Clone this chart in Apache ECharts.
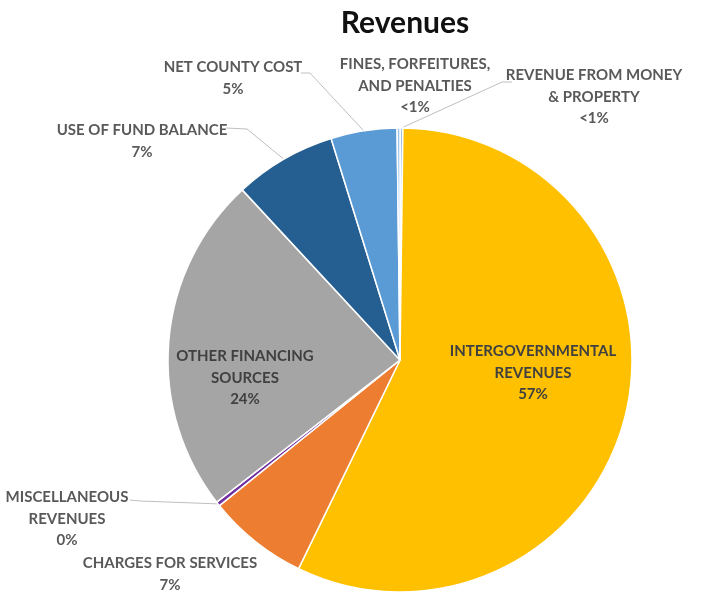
<!DOCTYPE html>
<html><head><meta charset="utf-8">
<script src="https://cdn.jsdelivr.net/npm/echarts@6/dist/echarts.min.js"></script>
<style>html,body{margin:0;padding:0;background:#fff}#c{width:707px;height:592px}</style>
</head><body><div id="c"></div>
<script>
// ---- data ----
const categories = [
  'REVENUE FROM MONEY\n& PROPERTY',
  'INTERGOVERNMENTAL\nREVENUES',
  'CHARGES FOR SERVICES',
  'MISCELLANEOUS\nREVENUES',
  'OTHER FINANCING\nSOURCES',
  'USE OF FUND BALANCE',
  'NET COUNTY COST',
  'FINES, FORFEITURES,\nAND PENALTIES'
];
const values = [0.2, 57.0, 7.0, 0.3, 23.6, 7.1, 4.6, 0.2];
const percentLabels = ['<1%', '57%', '7%', '0%', '24%', '7%', '5%', '<1%'];

// ---- style / layout ----
const colors = ['#9DC3E6', '#FFC000', '#ED7D31', '#7030A0', '#A5A5A5', '#255E91', '#5B9BD5', '#9DC3E6'];
const CX = 400, CY = 360, R = 232;
const labelPos = [[594, 97], [533, 373], [170, 574], [67, 519], [245, 378], [142, 141], [233, 78], [415, 86]];
const insideIdx = [1, 4];
const lineTail = { 0: [[502, 82], [512, 82]], 3: [[140, 501], [130, 500]], 5: [[247, 129], [226, 128]], 6: [[310, 73], [301, 73]] };
const FONT = "Lato, 'Liberation Sans', sans-serif";

const total = values.reduce((a, b) => a + b, 0);
const midAngles = [];
let cum = 0;
values.forEach(v => { midAngles.push((cum + v / 2) / total * Math.PI * 2); cum += v; });

const data = categories.map((n, i) => ({
  name: n,
  value: values[i],
  itemStyle: { color: colors[i] },
  label: { color: insideIdx.includes(i) ? '#404040' : '#595959' },
  labelLine: { show: !!lineTail[i] }
}));

const chart = echarts.init(document.getElementById('c'), null, { renderer: 'canvas' });
chart.setOption({
  animation: false,
  title: {
    text: 'Revenues', left: 400, top: 3, textAlign: 'center',
    textStyle: { fontFamily: FONT, fontSize: 30, fontWeight: 'bold', color: '#111' }
  },
  series: [{
    type: 'pie',
    center: [CX, CY],
    radius: R,
    startAngle: 90,
    clockwise: true,
    avoidLabelOverlap: false,
    data: data,
    itemStyle: { borderColor: '#fff', borderWidth: 1.5 },
    label: {
      show: true,
      position: 'outside',
      fontFamily: FONT,
      fontSize: 15,
      fontWeight: 'bold',
      lineHeight: 21.5,
      align: 'center',
      formatter: p => p.name + '\n' + percentLabels[p.dataIndex]
    },
    labelLine: { show: true, lineStyle: { color: '#BFBFBF', width: 1 }, smooth: false },
    labelLayout: function (p) {
      const i = p.dataIndex;
      const pos = labelPos[i];
      const res = { x: pos[0], y: pos[1], align: 'center', verticalAlign: 'middle' };
      if (lineTail[i]) {
        const a = midAngles[i];
        const edge = [CX + R * Math.sin(a), CY - R * Math.cos(a)];
        res.labelLinePoints = [edge, lineTail[i][0], lineTail[i][1]];
      }
      return res;
    }
  }]
});
</script>
</body></html>
